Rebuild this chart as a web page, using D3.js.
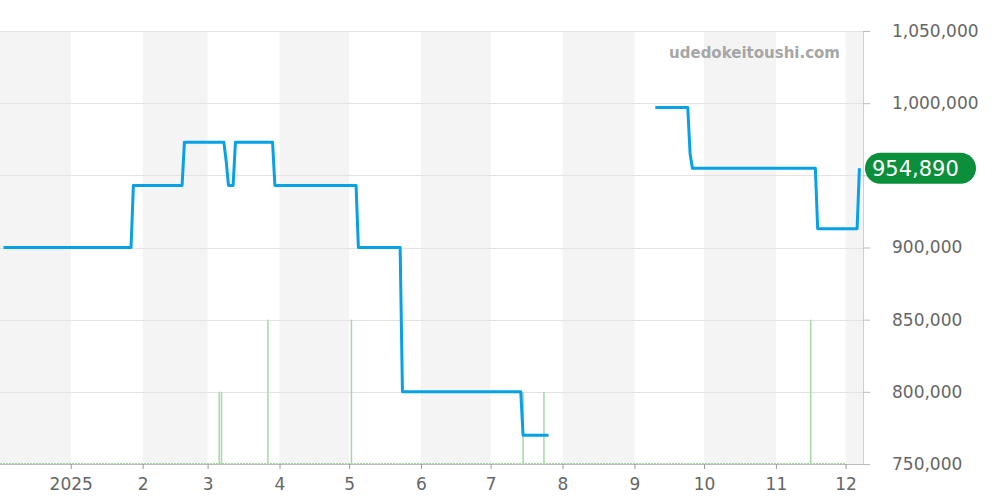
<!DOCTYPE html>
<html>
<head>
<meta charset="utf-8">
<script src="https://cdn.jsdelivr.net/npm/d3@7"></script>
<style>
  html, body { margin: 0; padding: 0; background: #fff; }
  svg { display: block; font-family: "DejaVu Sans", sans-serif; }
</style>
</head>
<body>
<svg id="chart" width="1000" height="500"></svg>
<script>
// ---- data ----
const priceDates = [
  "2024-12-03","2025-01-27","2025-01-28","2025-02-18","2025-02-19",
  "2025-03-08","2025-03-09","2025-03-10","2025-03-12","2025-03-13",
  "2025-03-29","2025-03-30","2025-05-04","2025-05-05","2025-05-23",
  "2025-05-24","2025-07-14","2025-07-15","2025-07-26","2025-08-15",
  "2025-09-10","2025-09-24","2025-09-25","2025-09-26","2025-11-18",
  "2025-11-19","2025-12-06","2025-12-07"
];
const priceValues = [
  900000, 900000, 943000, 943000, 973000,
  973000, 960000, 943000, 943000, 973000,
  973000, 943000, 943000, 900000, 900000,
  800000, 800000, 770000, 770000, null,
  997000, 997000, 965000, 954890, 954890,
  913000, 913000, 954890
];
const volumeDates = ["2025-03-06","2025-03-07","2025-03-27","2025-05-02","2025-07-15","2025-07-24","2025-11-16"];
const volumeCounts = [1, 1, 2, 2, 1, 1, 2];
const yTicks = [750000, 800000, 850000, 900000, 950000, 1000000, 1050000];
const monthTicks = ["2025-01-01","2025-02-01","2025-03-01","2025-04-01","2025-05-01","2025-06-01",
                    "2025-07-01","2025-08-01","2025-09-01","2025-10-01","2025-11-01","2025-12-01"];
const monthLabels = ["2025","2","3","4","5","6","7","8","9","10","11","12"];
const shadedMonths = ["2024-12-01","2025-02-01","2025-04-01","2025-06-01","2025-08-01","2025-10-01","2025-12-01"];
const lastPrice = 954890;
const watermark = "udedokeitoushi.com";

// ---- layout ----
const parse = d3.utcParse("%Y-%m-%d");
const plotL = 0, plotR = 863, plotT = 31, plotB = 464;
const svg = d3.select("#chart");

const x = d3.scaleUtc()
  .domain([new Date(Date.UTC(2024, 11, 1, 12)), new Date(Date.UTC(2025, 11, 8, 13))])
  .range([plotL, plotR]);
const y = d3.scaleLinear().domain([750000, 1050000]).range([plotB, plotT]);
const yVol = d3.scaleLinear().domain([0, 6]).range([plotB, plotT]);

// shaded month bands
svg.append("g").selectAll("rect").data(shadedMonths).join("rect")
  .attr("x", d => Math.max(plotL, x(parse(d))))
  .attr("width", d => {
    const s = parse(d);
    const e = d3.utcMonth.offset(s, 1);
    return Math.min(plotR, x(e)) - Math.max(plotL, x(s));
  })
  .attr("y", plotT).attr("height", plotB - plotT)
  .attr("fill", "#f4f4f4");

// horizontal grid
svg.append("g").selectAll("line").data(yTicks).join("line")
  .attr("x1", plotL).attr("x2", plotR)
  .attr("y1", d => Math.round(y(d)) + 0.5).attr("y2", d => Math.round(y(d)) + 0.5)
  .attr("stroke", "#e3e3e3").attr("stroke-width", 1);

// right axis (the label hidden behind the last-price badge is not drawn)
const yAxis = d3.axisRight(y).tickValues(yTicks)
  .tickFormat(d => Math.abs(y(d) - y(lastPrice)) < 20 ? "" : d3.format(",")(d))
  .tickSize(7).tickPadding(22);
const gy = svg.append("g").attr("transform", `translate(${plotR},0)`).call(yAxis);
gy.select(".domain").attr("stroke", "#d0d0d0");
gy.selectAll(".tick line").attr("stroke", "#bbb");
gy.selectAll(".tick text").attr("fill", "#666").style("font-size", "17px")
  .style("font-family", "'DejaVu Sans', sans-serif");

// bottom axis
const xAxis = d3.axisBottom(x).tickValues(monthTicks.map(parse))
  .tickFormat((d, i) => monthLabels[i]).tickSize(5).tickPadding(9);
const gx = svg.append("g").attr("transform", `translate(0,${plotB})`).call(xAxis);
gx.select(".domain").attr("stroke", "#bbb").attr("d", `M${plotL},0.5H${plotR}`);
gx.selectAll(".tick line").attr("stroke", "#999");
gx.selectAll(".tick text").attr("fill", "#666").style("font-size", "17px")
  .style("font-family", "'DejaVu Sans', sans-serif");

// volume baseline (dotted green)
svg.append("line")
  .attr("x1", plotL).attr("x2", x(parse("2025-12-01")))
  .attr("y1", plotB - 0.5).attr("y2", plotB - 0.5)
  .attr("stroke", "#9fd69f").attr("stroke-width", 1.2).attr("stroke-dasharray", "2,1");

// volume bars
svg.append("g").selectAll("rect").data(volumeDates.map((d, i) => ({ d: parse(d), v: volumeCounts[i] }))).join("rect")
  .attr("x", d => x(d.d) - 0.75).attr("width", 1.5)
  .attr("y", d => yVol(d.v)).attr("height", d => plotB - yVol(d.v))
  .attr("fill", "#a3d9a3");

// watermark
svg.append("text")
  .attr("x", 840).attr("y", 57.5).attr("text-anchor", "end")
  .attr("fill", "#a6a6a6").style("font-size", "15px").style("font-weight", "bold")
  .text(watermark);

// price line
const pts = priceDates.map((d, i) => ({ d: parse(d), v: priceValues[i] }));
const line = d3.line().defined(p => p.v !== null).x(p => x(p.d)).y(p => y(p.v));
svg.append("path").datum(pts)
  .attr("d", line).attr("fill", "none")
  .attr("stroke", "#07a1e6").attr("stroke-width", 3)
  .attr("stroke-linejoin", "round");

// last price badge
const by = y(lastPrice);
const badge = svg.append("g");
badge.append("rect")
  .attr("x", 865).attr("y", by - 15.5).attr("width", 111).attr("height", 31).attr("rx", 15.5)
  .attr("fill", "#0b8f3a");
badge.append("text")
  .attr("x", 872).attr("y", by + 7.5).attr("fill", "#fff")
  .style("font-size", "21px")
  .text(d3.format(",")(lastPrice));
</script>
</body>
</html>
